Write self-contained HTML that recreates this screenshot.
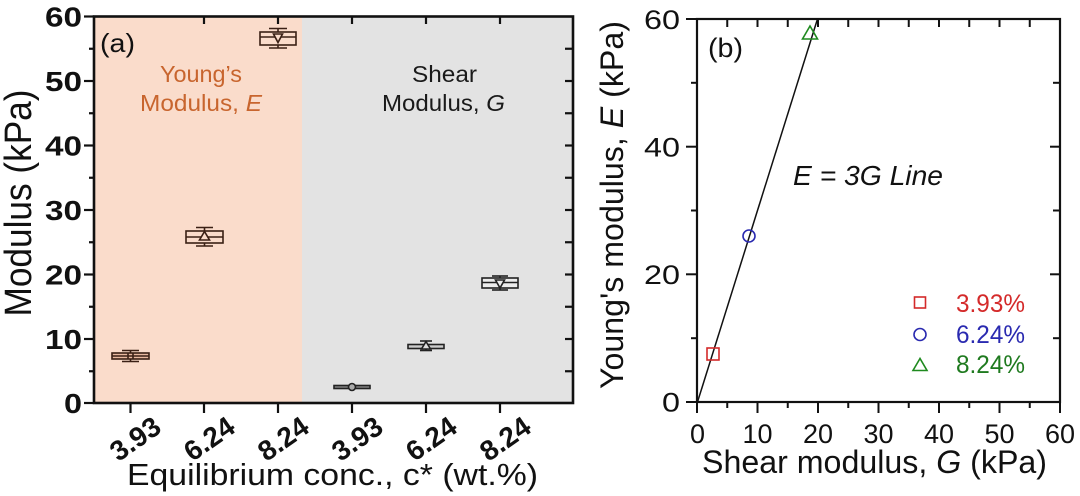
<!DOCTYPE html>
<html>
<head>
<meta charset="utf-8">
<style>
  html,body{margin:0;padding:0;background:#fff;}
  svg{display:block;}
  text{font-family:"Liberation Sans",Arial,sans-serif;}
</style>
</head>
<body>
<svg width="1080" height="496" viewBox="0 0 1080 496" xmlns="http://www.w3.org/2000/svg">
  <rect x="0" y="0" width="1080" height="496" fill="#ffffff"/>

  <!-- ================= LEFT PANEL (a) ================= -->
  <rect x="94" y="16" width="208" height="387" fill="#fadccb"/>
  <rect x="302" y="16" width="271" height="387" fill="#e3e3e3"/>

  <!-- annotations -->
  <text x="100" y="52" font-size="26" fill="#111" textLength="35" lengthAdjust="spacingAndGlyphs">(a)</text>
  <text x="160" y="82" font-size="23" fill="#c8652e" textLength="82" lengthAdjust="spacingAndGlyphs">Young’s</text>
  <text x="140" y="111" font-size="23" fill="#c8652e" textLength="122" lengthAdjust="spacingAndGlyphs">Modulus, <tspan font-style="italic">E</tspan></text>
  <text x="412" y="82" font-size="23" fill="#1a1a1a" textLength="65" lengthAdjust="spacingAndGlyphs">Shear</text>
  <text x="382" y="111" font-size="23" fill="#1a1a1a" textLength="123" lengthAdjust="spacingAndGlyphs">Modulus, <tspan font-style="italic">G</tspan></text>

  <!-- box plots E -->
  <g stroke="#3a2015" stroke-width="1.6" fill="none">
    <!-- box1 -->
    <line x1="130.5" y1="350" x2="130.5" y2="362"/>
    <line x1="122" y1="350.5" x2="139" y2="350.5"/>
    <line x1="122" y1="361.5" x2="139" y2="361.5"/>
    <rect x="112" y="353" width="37" height="6" fill="#e8b9a0"/>
    <line x1="112" y1="356" x2="149" y2="356"/>
    <line x1="128" y1="353" x2="128" y2="359"/>
    <line x1="133" y1="353" x2="133" y2="359"/>
    <!-- box2 -->
    <line x1="204.5" y1="227" x2="204.5" y2="246"/>
    <line x1="196" y1="227.5" x2="213" y2="227.5"/>
    <line x1="196" y1="246" x2="213" y2="246"/>
    <rect x="186" y="231" width="37" height="12" fill="#fadccb"/>
    <line x1="186" y1="237" x2="223" y2="237"/>
    <polygon points="204.5,231.5 199.5,240 209.5,240" fill="#fadccb"/>
    <!-- box3 -->
    <line x1="278" y1="28" x2="278" y2="48"/>
    <line x1="269" y1="28.5" x2="287" y2="28.5"/>
    <line x1="269" y1="48" x2="287" y2="48"/>
    <rect x="260" y="32" width="36" height="13" fill="#fadccb"/>
    <line x1="260" y1="37" x2="296" y2="37"/>
    <polygon points="273.5,34 282.5,34 278,42.5" fill="#fadccb"/>
  </g>
  <!-- box plots G -->
  <g stroke="#222" stroke-width="1.6" fill="none">
    <!-- box4 -->
    <line x1="352" y1="384" x2="352" y2="390"/>
    <rect x="334" y="385.5" width="36" height="3" fill="#888"/>
    <circle cx="352" cy="387" r="3.5" fill="#aaa"/>
    <!-- box5 -->
    <line x1="426" y1="340.5" x2="426" y2="351"/>
    <line x1="420" y1="341" x2="432" y2="341"/>
    <line x1="420" y1="350.5" x2="432" y2="350.5"/>
    <rect x="408" y="344.5" width="36" height="4" fill="#ccc"/>
    <polygon points="426,341.5 421.5,349 430.5,349" fill="#ddd"/>
    <!-- box6 -->
    <line x1="500" y1="275.5" x2="500" y2="290.5"/>
    <line x1="492" y1="276" x2="508" y2="276"/>
    <line x1="492" y1="290" x2="508" y2="290"/>
    <rect x="482" y="278" width="36" height="10" fill="#ececec"/>
    <line x1="482" y1="282.5" x2="518" y2="282.5"/>
    <polygon points="495.5,280 504.5,280 500,288" fill="#ececec"/>
  </g>

  <!-- axes frame left -->
  <rect x="94" y="16.5" width="479" height="386.5" fill="none" stroke="#111" stroke-width="2.6"/>
  <g stroke="#111" stroke-width="2.2">
    <!-- left major -->
    <line x1="84" y1="16.5" x2="94" y2="16.5"/>
    <line x1="84" y1="81" x2="94" y2="81"/>
    <line x1="84" y1="145.5" x2="94" y2="145.5"/>
    <line x1="84" y1="210" x2="94" y2="210"/>
    <line x1="84" y1="274.5" x2="94" y2="274.5"/>
    <line x1="84" y1="339" x2="94" y2="339"/>
    <line x1="84" y1="403" x2="94" y2="403"/>
    <!-- left minor -->
    <line x1="89" y1="48.75" x2="94" y2="48.75"/>
    <line x1="89" y1="113.25" x2="94" y2="113.25"/>
    <line x1="89" y1="177.75" x2="94" y2="177.75"/>
    <line x1="89" y1="242.25" x2="94" y2="242.25"/>
    <line x1="89" y1="306.75" x2="94" y2="306.75"/>
    <line x1="89" y1="371.25" x2="94" y2="371.25"/>
    <!-- bottom ticks -->
    <line x1="130.5" y1="403" x2="130.5" y2="413"/>
    <line x1="204" y1="403" x2="204" y2="413"/>
    <line x1="278" y1="403" x2="278" y2="413"/>
    <line x1="352" y1="403" x2="352" y2="413"/>
    <line x1="426" y1="403" x2="426" y2="413"/>
    <line x1="500" y1="403" x2="500" y2="413"/>
    <!-- top ticks inward -->
    <line x1="204" y1="16" x2="204" y2="24"/>
    <line x1="278" y1="16" x2="278" y2="24"/>
    <line x1="352" y1="16" x2="352" y2="24"/>
    <line x1="426" y1="16" x2="426" y2="24"/>
    <line x1="500" y1="16" x2="500" y2="24"/>
    <!-- right ticks inward -->
    <line x1="565" y1="48.75" x2="573" y2="48.75"/>
    <line x1="565" y1="81" x2="573" y2="81"/>
    <line x1="565" y1="113.25" x2="573" y2="113.25"/>
    <line x1="565" y1="145.5" x2="573" y2="145.5"/>
    <line x1="565" y1="177.75" x2="573" y2="177.75"/>
    <line x1="565" y1="210" x2="573" y2="210"/>
    <line x1="565" y1="242.25" x2="573" y2="242.25"/>
    <line x1="565" y1="274.5" x2="573" y2="274.5"/>
    <line x1="565" y1="306.75" x2="573" y2="306.75"/>
    <line x1="565" y1="339" x2="573" y2="339"/>
    <line x1="565" y1="371.25" x2="573" y2="371.25"/>
  </g>

  <!-- left y labels -->
  <g font-size="28" font-weight="bold" fill="#111" text-anchor="end">
    <text x="82" y="26.5" textLength="37" lengthAdjust="spacingAndGlyphs">60</text>
    <text x="82" y="91" textLength="37" lengthAdjust="spacingAndGlyphs">50</text>
    <text x="82" y="155.5" textLength="37" lengthAdjust="spacingAndGlyphs">40</text>
    <text x="82" y="220" textLength="37" lengthAdjust="spacingAndGlyphs">30</text>
    <text x="82" y="284.5" textLength="37" lengthAdjust="spacingAndGlyphs">20</text>
    <text x="82" y="349" textLength="37" lengthAdjust="spacingAndGlyphs">10</text>
    <text x="82" y="413" textLength="18" lengthAdjust="spacingAndGlyphs">0</text>
  </g>
  <text transform="translate(31,203) rotate(-90)" text-anchor="middle" font-size="38" fill="#111" textLength="227" lengthAdjust="spacingAndGlyphs">Modulus (kPa)</text>

  <!-- left x tick labels -->
  <g font-size="28" font-weight="bold" fill="#111" text-anchor="end">
    <text transform="translate(163,431) rotate(-35)">3.93</text>
    <text transform="translate(237,431) rotate(-35)">6.24</text>
    <text transform="translate(311,431) rotate(-35)">8.24</text>
    <text transform="translate(385,431) rotate(-35)">3.93</text>
    <text transform="translate(459,431) rotate(-35)">6.24</text>
    <text transform="translate(533,431) rotate(-35)">8.24</text>
  </g>
  <text x="127" y="485" font-size="31" fill="#111" textLength="411" lengthAdjust="spacingAndGlyphs">Equilibrium conc., c* (wt.%)</text>

  <!-- ================= RIGHT PANEL (b) ================= -->
  <rect x="697" y="19" width="363" height="383" fill="none" stroke="#111" stroke-width="2.2"/>
  <g stroke="#111" stroke-width="2">
    <!-- bottom major -->
    <line x1="697" y1="402" x2="697" y2="413"/>
    <line x1="757.5" y1="402" x2="757.5" y2="413"/>
    <line x1="818" y1="402" x2="818" y2="413"/>
    <line x1="878.5" y1="402" x2="878.5" y2="413"/>
    <line x1="939" y1="402" x2="939" y2="413"/>
    <line x1="999.5" y1="402" x2="999.5" y2="413"/>
    <line x1="1060" y1="402" x2="1060" y2="413"/>
    <!-- bottom minor -->
    <line x1="727.25" y1="402" x2="727.25" y2="408"/>
    <line x1="787.75" y1="402" x2="787.75" y2="408"/>
    <line x1="848.25" y1="402" x2="848.25" y2="408"/>
    <line x1="908.75" y1="402" x2="908.75" y2="408"/>
    <line x1="969.25" y1="402" x2="969.25" y2="408"/>
    <line x1="1029.75" y1="402" x2="1029.75" y2="408"/>
    <!-- top inward -->
    <line x1="727.25" y1="19" x2="727.25" y2="27"/>
    <line x1="757.5" y1="19" x2="757.5" y2="27"/>
    <line x1="787.75" y1="19" x2="787.75" y2="27"/>
    <line x1="818" y1="19" x2="818" y2="27"/>
    <line x1="848.25" y1="19" x2="848.25" y2="27"/>
    <line x1="878.5" y1="19" x2="878.5" y2="27"/>
    <line x1="908.75" y1="19" x2="908.75" y2="27"/>
    <line x1="939" y1="19" x2="939" y2="27"/>
    <line x1="969.25" y1="19" x2="969.25" y2="27"/>
    <line x1="999.5" y1="19" x2="999.5" y2="27"/>
    <line x1="1029.75" y1="19" x2="1029.75" y2="27"/>
    <!-- left outward -->
    <line x1="686" y1="19" x2="697" y2="19"/>
    <line x1="686" y1="146.7" x2="697" y2="146.7"/>
    <line x1="686" y1="274.3" x2="697" y2="274.3"/>
    <line x1="686" y1="402" x2="697" y2="402"/>
    <line x1="691" y1="82.8" x2="697" y2="82.8"/>
    <line x1="691" y1="210.5" x2="697" y2="210.5"/>
    <line x1="691" y1="338.2" x2="697" y2="338.2"/>
    <!-- right inward -->
    <line x1="1050" y1="146.7" x2="1060" y2="146.7"/>
    <line x1="1050" y1="274.3" x2="1060" y2="274.3"/>
    <line x1="1053" y1="82.8" x2="1060" y2="82.8"/>
    <line x1="1053" y1="210.5" x2="1060" y2="210.5"/>
    <line x1="1053" y1="338.2" x2="1060" y2="338.2"/>
  </g>

  <!-- E=3G line -->
  <line x1="697.5" y1="402" x2="817.5" y2="19" stroke="#111" stroke-width="1.5"/>

  <!-- data markers -->
  <rect x="707" y="348" width="12" height="12" fill="none" stroke="#d42a2a" stroke-width="1.6"/>
  <circle cx="749" cy="236" r="6" fill="none" stroke="#2a2ab0" stroke-width="1.6"/>
  <polygon points="810,26 802.5,39 817.5,39" fill="none" stroke="#1f8a1f" stroke-width="1.6"/>

  <!-- legend -->
  <rect x="914.5" y="297" width="11" height="11" fill="none" stroke="#d42a2a" stroke-width="1.6"/>
  <circle cx="920" cy="334.5" r="6" fill="none" stroke="#2a2ab0" stroke-width="1.6"/>
  <polygon points="920,358.5 913,370.5 927,370.5" fill="none" stroke="#1f8a1f" stroke-width="1.6"/>
  <text x="956" y="312" font-size="25" fill="#d42a2a" textLength="69" lengthAdjust="spacingAndGlyphs">3.93%</text>
  <text x="956" y="343" font-size="25" fill="#2a2ab0" textLength="69" lengthAdjust="spacingAndGlyphs">6.24%</text>
  <text x="956" y="373" font-size="25" fill="#1f7a1f" textLength="69" lengthAdjust="spacingAndGlyphs">8.24%</text>

  <text x="708" y="57" font-size="27" fill="#111" textLength="35" lengthAdjust="spacingAndGlyphs">(b)</text>
  <text x="793" y="185" font-size="28" font-style="italic" fill="#111" textLength="150" lengthAdjust="spacingAndGlyphs">E = 3G Line</text>

  <!-- right y labels -->
  <g font-size="27" fill="#111" text-anchor="end">
    <text x="680" y="29" textLength="36" lengthAdjust="spacingAndGlyphs">60</text>
    <text x="680" y="156.5" textLength="36" lengthAdjust="spacingAndGlyphs">40</text>
    <text x="680" y="284" textLength="36" lengthAdjust="spacingAndGlyphs">20</text>
    <text x="680" y="411.5" textLength="18" lengthAdjust="spacingAndGlyphs">0</text>
  </g>
  <!-- right x labels -->
  <g font-size="27" fill="#111" text-anchor="middle">
    <text x="697.5" y="443">0</text>
    <text x="757.5" y="443">10</text>
    <text x="818" y="443">20</text>
    <text x="878.5" y="443">30</text>
    <text x="939" y="443">40</text>
    <text x="999.5" y="443">50</text>
    <text x="1060" y="443">60</text>
  </g>
  <text x="702" y="473" font-size="32" fill="#111" textLength="345" lengthAdjust="spacingAndGlyphs">Shear modulus, <tspan font-style="italic">G</tspan> (kPa)</text>
  <text transform="translate(623,205) rotate(-90)" text-anchor="middle" font-size="32" fill="#111" textLength="368" lengthAdjust="spacingAndGlyphs">Young's modulus, <tspan font-style="italic">E</tspan> (kPa)</text>
</svg>
</body>
</html>
